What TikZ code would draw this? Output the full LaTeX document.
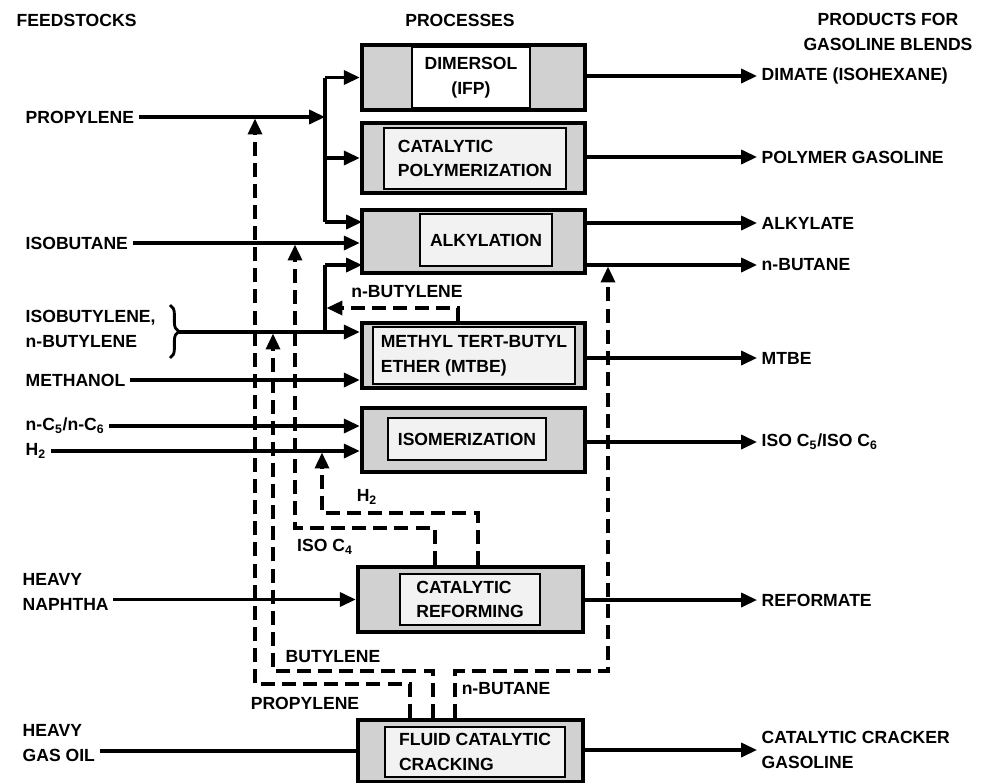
\documentclass[tikz,border=0pt]{standalone}
\usepackage{fontspec}
\setmainfont{Liberation Sans}
\usetikzlibrary{arrows.meta, positioning, calc, decorations.pathreplacing}

\begin{document}
\begin{tikzpicture}[
        x=0.02cm, y=-0.02cm,
        lbl/.style={font=\bfseries\fontsize{10}{14}\selectfont, inner sep=2.5pt},
        procbox/.style={
            draw,
            line width=2.6pt,
            fill=black!18,
            minimum width=4.46cm,
            minimum height=1.3cm
        },
        corebox/.style={
            lbl,
            draw,
            line width=0.6pt,
            fill=black!5,
            align=left,
            inner sep=3pt
        },
        flow/.style={-{Triangle[length=9pt,width=8pt]}, line width=1.8pt},
        pipe/.style={line width=1.8pt},
        recycle/.style={flow, dash pattern=on 8pt off 4pt, shorten >=0.9pt}
    ]

    \fill[white] (0,0) rectangle (995,782);
    \useasboundingbox (0,0) rectangle (995,782);

    % headings
    \node[lbl, anchor=west] (feedhd) at (12,20) {FEEDSTOCKS};
    \node[lbl] (prochd) at (460,20) {PROCESSES};
    \node[lbl, align=center] (prodhd) at (888,32) {PRODUCTS FOR\\GASOLINE BLENDS};

    % processes
    \node[procbox] (dim) at (473.5,77.5) {};
    \node[corebox, fill=white, align=center, minimum width=2.36cm, minimum height=1.22cm] (dimtxt) at (471,77.5) {DIMERSOL\\(IFP)};

    \node[procbox, minimum height=1.4cm] (poly) at (473.5,158) {};
    \node[corebox, minimum width=3.64cm, minimum height=1.22cm] (polytxt) at (475,158.5) {CATALYTIC\\POLYMERIZATION};

    \node[procbox, minimum height=1.26cm] (alk) at (473.5,241.5) {};
    \node[corebox, minimum width=2.64cm, minimum height=1.04cm] (alktxt) at (486,240) {ALKYLATION};

    \node[procbox] (mtbe) at (473.5,355.5) {};
    \node[corebox, minimum width=4.04cm, minimum height=1.14cm] (mtbetxt) at (474,355.5) {METHYL TERT-BUTYL\\ETHER (MTBE)};

    \node[procbox, minimum height=1.28cm] (iso) at (473.5,440) {};
    \node[corebox, minimum width=3.16cm, minimum height=0.84cm] (isotxt) at (467,439) {ISOMERIZATION};

    \node[procbox, minimum width=4.5cm] (ref) at (470.5,599.5) {};
    \node[corebox, minimum width=2.8cm, minimum height=1.02cm] (reftxt) at (470,599.5) {CATALYTIC\\REFORMING};

    \node[procbox, minimum width=4.5cm, minimum height=1.24cm] (fcc) at (470.5,751) {};
    \node[corebox, minimum width=3.6cm, minimum height=1cm] (fcctxt) at (475,752) {FLUID CATALYTIC\\CRACKING};

    % feedstocks
    \node[lbl, anchor=west] (propin) at (21,117) {PROPYLENE};
    \node[lbl, anchor=west] (ibutin) at (21,243) {ISOBUTANE};
    \node[lbl, anchor=west, align=left] (ibtlin) at (21,329) {ISOBUTYLENE,\\n-BUTYLENE};
    \node[lbl, anchor=west] (methin) at (21,380) {METHANOL};
    \node[lbl, anchor=west] (ncin) at (21,426) {n-C\textsubscript{5}/n-C\textsubscript{6}};
    \node[lbl, anchor=west] (h2in) at (21,451) {H\textsubscript{2}};
    \node[lbl, anchor=west, align=left] (naphin) at (18,592) {HEAVY\\NAPHTHA};
    \node[lbl, anchor=west, align=left] (gasoilin) at (18,743) {HEAVY\\GAS OIL};

    % products
    \node[lbl, anchor=west] (dimate) at (757,76) {DIMATE (ISOHEXANE)};
    \node[lbl, anchor=west] (polygas) at (757,157) {POLYMER GASOLINE};
    \node[lbl, anchor=west] (alkylate) at (757,223) {ALKYLATE};
    \node[lbl, anchor=west] (nbutout) at (757,265) {n-BUTANE};
    \node[lbl, anchor=west] (mtbeout) at (757,358) {MTBE};
    \node[lbl, anchor=west] (isoout) at (757,442) {ISO C\textsubscript{5}/ISO C\textsubscript{6}};
    \node[lbl, anchor=west] (reformate) at (757,600) {REFORMATE};
    \node[lbl, anchor=west, align=left] (ccgas) at (757,750) {CATALYTIC CRACKER\\GASOLINE};

    % recycle labels
    \node[lbl] (nbtlbl) at (407,292) {n-BUTYLENE};
    \node[lbl] (h2lbl) at (367,497) {H\textsubscript{2}};
    \node[lbl] (isoc4lbl) at (325,547) {ISO C\textsubscript{4}};
    \node[lbl] (butlbl) at (333,657) {BUTYLENE};
    \node[lbl] (prlbl) at (305,703) {PROPYLENE};
    \node[lbl] (nbulbl) at (506,689) {n-BUTANE};

    % junctions
    \coordinate (psplit) at (325,117);
    \coordinate (bsplit) at (325,332);
    \coordinate (alkA) at (362,222);
    \coordinate (alkC) at (362,265);
    \coordinate (brtop) at (170,305);
    \coordinate (brbot) at (170,358);
    \coordinate (brtip) at (179,332);

    % feed lines
    \draw[flow] (propin.east) -- (psplit);
    \draw[pipe] (psplit |- dim.west) -- (psplit |- alkA);
    \draw[flow] (psplit |- dim.west) -- (dim.west);
    \draw[flow] (psplit |- poly.west) -- (poly.west);
    \draw[flow] (psplit |- alkA) -- (alkA);
    \draw[flow] (ibutin.east) -- (ibutin.east -| alk.west);
    \draw[line width=1.6pt, decorate, decoration={brace, amplitude=5pt}] (brtop) -- (brbot);
    \draw[flow] (brtip) -- (brtip -| mtbe.west);
    \draw[pipe] (bsplit) -- (bsplit |- alkC);
    \draw[flow] (bsplit |- alkC) -- (alkC);
    \draw[flow] (methin.east) -- (methin.east -| mtbe.west);
    \draw[flow] (ncin.east) -- (ncin.east -| iso.west);
    \draw[flow] (h2in.east) -- (h2in.east -| iso.west);
    \draw[flow] (ref.west -| naphin.east) -- (ref.west);
    \draw[pipe] (fcc.west -| gasoilin.east) -- (fcc.west);

    % product lines
    \draw[flow] (dimate.west -| dim.east) -- (dimate.west);
    \draw[flow] (polygas.west -| poly.east) -- (polygas.west);
    \draw[flow] (alkylate.west -| alk.east) -- (alkylate.west);
    \draw[flow] (nbutout.west -| alk.east) -- (nbutout.west);
    \draw[flow] (mtbeout.west -| mtbe.east) -- (mtbeout.west);
    \draw[flow] (isoout.west -| iso.east) -- (isoout.west);
    \draw[flow] (reformate.west -| ref.east) -- (reformate.west);
    \draw[flow] (ccgas.west -| fcc.east) -- (ccgas.west);

    % recycles
    \coordinate (nbturn) at (458,308);
    \draw[recycle] (nbturn |- mtbe.north) -- (nbturn) -- (nbturn -| bsplit);

    \coordinate (icturn) at (435,528);
    \coordinate (icin) at (295,243);
    \draw[recycle] (icturn |- ref.north) -- (icturn) -| (icin);
    \coordinate (hturn) at (478,513);
    \coordinate (hin) at (322,451);
    \draw[recycle] (hturn |- ref.north) -- (hturn) -| (hin);

    \coordinate (prturn) at (410,684);
    \coordinate (prin) at (255,117);
    \draw[recycle] (prturn |- fcc.north) -- (prturn) -| (prin);
    \coordinate (buturn) at (433,671);
    \coordinate (buin) at (273,332);
    \draw[recycle] (buturn |- fcc.north) -- (buturn) -| (buin);
    \coordinate (nbuturn) at (455,671);
    \coordinate (nbuin) at (608,265);
    \draw[recycle] (nbuturn |- fcc.north) -- (nbuturn) -| (nbuin);

\end{tikzpicture}
\end{document}
